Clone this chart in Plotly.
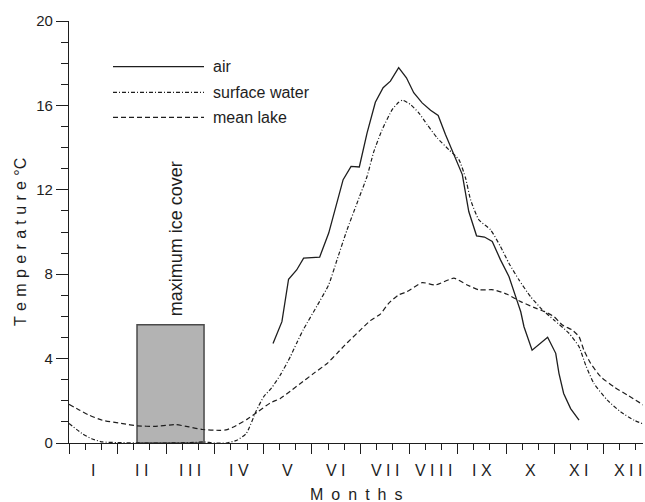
import plotly.graph_objects as go

# ---- data (day of year with 30-day months, temperature in °C) ----
months = ["I", "I I", "I I I", "I V", "V", "V I", "V I I", "V I I I", "I X", "X", "X I", "X I I"]
month_centers = [15, 45, 75, 105, 135, 165, 195, 225, 255, 285, 315, 345]

air_day = [126, 131.5, 135.6, 140.6, 144.9, 154.8, 160.4, 169.3, 174.2, 179.3, 184.1, 189.2,
           194.0, 198.5, 203.6, 208.4, 212.9, 218.1, 223.3, 228.0, 232.5, 237.7, 242.9, 246.9,
           251.7, 256.6, 261.4, 266.5, 271.7, 276.9, 279.0, 281.0, 286.0, 295.6, 300.6, 302.6,
           305.5, 309.8, 315.0]
air_temp = [4.72, 5.75, 7.76, 8.20, 8.76, 8.81, 9.95, 12.48, 13.11, 13.08, 14.70, 16.15,
            16.84, 17.15, 17.79, 17.31, 16.60, 16.12, 15.77, 15.52, 14.62, 13.67, 12.72, 10.97,
            9.82, 9.76, 9.55, 8.68, 7.89, 6.70, 6.22, 5.51, 4.40, 5.01, 4.25, 3.30,
            2.35, 1.63, 1.08]

sw_day = [0, 8, 14, 20.6, 30, 45, 60, 75, 83, 90, 97, 103.7, 109.5, 115.5, 120.2, 125, 130.5,
          136.7, 140.5, 144.9, 153.2, 160.4, 165.6, 171.7, 177.9, 184.1, 188.2, 193.4, 199.6,
          203.6, 206, 210.9, 216, 221.2, 227.4, 234.6, 240.8, 244.9, 248, 253.1, 260.4, 266.5,
          271.7, 277.9, 285, 292, 299.5, 308.8, 315, 319.1, 324.2, 332.5, 340.8, 349, 355]
sw_temp = [0.93, 0.45, 0.2, 0.05, 0.02, 0.0, 0.0, 0.02, 0.05, 0.0, 0.0, 0.13, 0.45, 1.5, 2.19,
           2.6, 3.22, 4.09, 4.72, 5.4, 6.5, 7.5, 8.7, 10.1, 11.37, 12.64, 13.8, 14.85, 15.8,
           16.15, 16.25, 16.04, 15.65, 15.09, 14.46, 13.9, 13.43, 12.56, 11.53, 10.58, 10.10,
           9.31, 8.52, 7.73, 6.94, 6.34, 5.83, 5.2, 4.56, 3.69, 2.82, 2.03, 1.47, 1.08, 0.89]

ml_day = [0, 6, 12.4, 20.6, 33.2, 42.2, 53.6, 66, 74.2, 82.4, 92.8, 97, 101.6, 109.9, 116.1,
          124.3, 130.5, 136.7, 142.9, 151.1, 159.4, 165.6, 169.9, 173.8, 179.9, 186.1, 192.3,
          197.4, 203.6, 208.7, 218.1, 226.4, 237.7, 245.9, 253.1, 262.2, 270.6, 279, 287, 294,
          299.5, 304.7, 310.9, 315, 318, 322.2, 328.4, 336.6, 344.9, 355]
ml_temp = [1.83, 1.58, 1.32, 1.08, 0.92, 0.81, 0.79, 0.87, 0.76, 0.64, 0.60, 0.62, 0.76, 1.12,
           1.45, 1.9, 2.11, 2.46, 2.82, 3.30, 3.77, 4.25, 4.6, 4.9, 5.35, 5.8, 6.11, 6.62, 7.02,
           7.17, 7.60, 7.49, 7.81, 7.49, 7.26, 7.26, 7.05, 6.70, 6.43, 6.22, 5.99, 5.59, 5.35,
           5.04, 4.40, 3.77, 3.14, 2.66, 2.27, 1.79]

ice_start, ice_end, ice_height = 42.0, 83.4, 5.6

series_names = ["air", "surface water", "mean lake"]

# ---- styles ----
INK = "#1e1e1e"
FONT = "Liberation Sans, Arial, sans-serif"
dash_styles = ["solid", "4px,2px,1px,2px", "5px,3px"]

fig = go.Figure()
fig.add_trace(go.Scatter(x=air_day, y=air_temp, mode="lines", name=series_names[0],
                         line=dict(color=INK, width=1.3, dash=dash_styles[0])))
fig.add_trace(go.Scatter(x=sw_day, y=sw_temp, mode="lines", name=series_names[1],
                         line=dict(color=INK, width=1.2, dash=dash_styles[1], shape="spline", smoothing=0.5)))
fig.add_trace(go.Scatter(x=ml_day, y=ml_temp, mode="lines", name=series_names[2],
                         line=dict(color=INK, width=1.2, dash=dash_styles[2], shape="spline", smoothing=0.5)))

# ice cover box
fig.add_shape(type="rect", xref="x", yref="y", x0=ice_start, x1=ice_end, y0=0, y1=ice_height,
              fillcolor="#b3b3b3", line=dict(color="#4a4a4a", width=1.5), layer="below")
fig.add_annotation(x=(ice_start + ice_end) / 2 + 3.3, y=ice_height + 4.1, xref="x", yref="y",
                   text="maximum ice cover", textangle=-90, showarrow=False,
                   font=dict(family=FONT, size=18, color=INK), xanchor="center", yanchor="middle")

# manual legend
W, H = 645, 502
ml, mr, mt, mb = 69, 2, 21, 59
pw, ph = W - ml - mr, H - mt - mb
def px_x(p):
    return (p - ml) / pw
def px_y(p):
    return (H - mb - p) / ph

legend_y = [66.7, 92.3, 117.3]
for name, dsh, yy in zip(series_names, dash_styles, legend_y):
    fig.add_shape(type="line", xref="paper", yref="paper", x0=px_x(113), x1=px_x(204),
                  y0=px_y(yy), y1=px_y(yy), line=dict(color=INK, width=1.2, dash=dsh))
    fig.add_annotation(x=px_x(211), y=px_y(yy), xref="paper", yref="paper", text=name,
                       showarrow=False, xanchor="left", yanchor="middle",
                       font=dict(family=FONT, size=16, color=INK))

# month labels
for m, c in zip(months, month_centers):
    fig.add_annotation(x=c, y=px_y(470), xref="x", yref="paper", text=m, showarrow=False,
                       xanchor="center", yanchor="middle", font=dict(family=FONT, size=16, color=INK))

# axis titles
fig.add_annotation(x=px_x(356), y=px_y(494), xref="paper", yref="paper",
                   text="M\u2002o\u2002n\u2002t\u2002h\u2002s", showarrow=False,
                   xanchor="center", yanchor="middle", font=dict(family=FONT, size=16, color=INK))
ytitle = "\u2004".join(list("Temperature")) + "\u2004°C"
fig.add_annotation(x=px_x(20.5), y=px_y(242.5), xref="paper", yref="paper", text=ytitle,
                   textangle=-90, showarrow=False, xanchor="center", yanchor="middle",
                   font=dict(family=FONT, size=16, color=INK))

fig.update_layout(
    width=W, height=H, margin=dict(l=ml, r=mr, t=mt, b=mb),
    paper_bgcolor="white", plot_bgcolor="white", showlegend=False,
    font=dict(family=FONT, size=15, color=INK),
    xaxis=dict(range=[0, 354.5], showgrid=False, zeroline=False, showline=True,
               linecolor=INK, linewidth=1.3, ticks="outside", tick0=0, dtick=30, ticklen=10,
               tickcolor=INK, tickwidth=1.2, showticklabels=False,
               minor=dict(ticks="outside", tick0=0, dtick=10, ticklen=6, tickcolor=INK, tickwidth=1.2)),
    yaxis=dict(range=[0, 20], showgrid=False, zeroline=False, showline=True,
               linecolor=INK, linewidth=1.3, ticks="outside", tick0=0, dtick=4, ticklen=12,
               tickcolor=INK, tickwidth=1.2, tickfont=dict(family=FONT, size=15, color=INK),
               minor=dict(ticks="outside", tick0=0, dtick=1, ticklen=7, tickcolor=INK, tickwidth=1.2)),
)

fig.write_html("out.html", config={"displayModeBar": False},
               post_script="document.body.style.margin='0';document.body.style.overflow='hidden';")
